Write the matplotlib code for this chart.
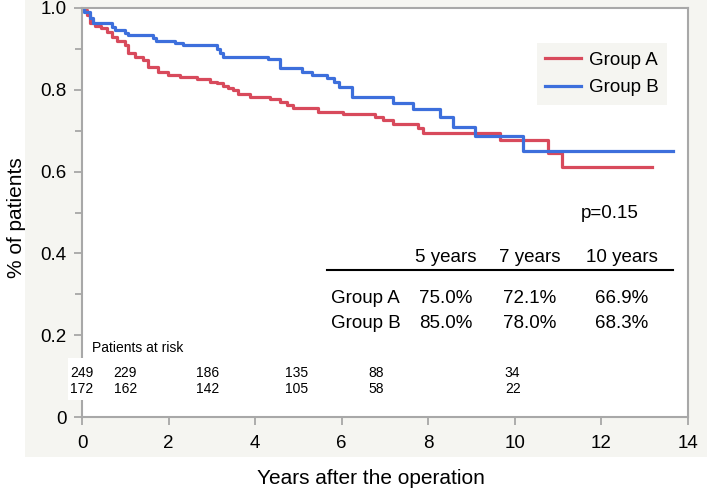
import matplotlib
matplotlib.use("Agg")
import matplotlib.pyplot as plt
from matplotlib.patches import Rectangle

plt.rcParams['font.family'] = ['Liberation Sans', 'DejaVu Sans']

# Kaplan-Meier steps (years, survival)
t_a = [0, 0.07, 0.11, 0.18, 0.30, 0.45, 0.57, 0.69, 0.80, 0.99, 1.07, 1.22, 1.42,
       1.53, 1.76, 1.99, 2.26, 2.65, 2.96, 3.11, 3.26, 3.38, 3.49, 3.61, 3.88,
       4.34, 4.57, 4.73, 4.88, 5.46, 6.03, 6.77, 6.96, 7.19, 7.77, 7.88, 9.65,
       10.77, 11.08, 13.16]
s_a = [1.0, 0.995, 0.983, 0.962, 0.956, 0.950, 0.942, 0.930, 0.920, 0.910, 0.889,
       0.881, 0.873, 0.856, 0.844, 0.836, 0.831, 0.826, 0.820, 0.816, 0.809, 0.805,
       0.800, 0.789, 0.783, 0.777, 0.771, 0.763, 0.755, 0.746, 0.741, 0.733, 0.725,
       0.716, 0.706, 0.694, 0.677, 0.645, 0.612, 0.612]

t_b = [0, 0.05, 0.18, 0.26, 0.69, 0.76, 0.99, 1.07, 1.64, 1.72, 2.15, 2.34, 3.11,
       3.18, 3.26, 4.30, 4.57, 5.08, 5.31, 5.66, 5.82, 5.93, 6.24, 7.18, 7.65,
       8.28, 8.57, 9.08, 10.19, 13.65]
s_b = [1.0, 0.99, 0.975, 0.962, 0.954, 0.946, 0.938, 0.934, 0.926, 0.920, 0.914,
       0.910, 0.900, 0.890, 0.880, 0.874, 0.853, 0.844, 0.836, 0.828, 0.820, 0.806,
       0.783, 0.768, 0.753, 0.733, 0.710, 0.687, 0.650, 0.650]

groups = ['Group A', 'Group B']
colors = ['#d84a5c', '#3d6fdc']

# patients at risk
risk_t = [0, 1, 2.9, 4.95, 6.8, 9.95]
risk_a = [249, 229, 186, 135, 88, 34]
risk_b = [172, 162, 142, 105, 58, 22]

# survival table
table_years = ['5 years', '7 years', '10 years']
table_a = ['75.0%', '72.1%', '66.9%']
table_b = ['85.0%', '78.0%', '68.3%']
table_x = [8.4, 10.35, 12.47]
p_text = 'p=0.15'

fs = 13.5
fs_lab = 15
fs_risk = 10

fig = plt.figure(figsize=(7.07, 4.92), dpi=100)
fig.patches.append(Rectangle((0.035, 0.071), 0.965, 0.929, transform=fig.transFigure,
                             facecolor='#f5f5f1', edgecolor='none', zorder=-10))
ax = fig.add_axes([0.116, 0.152, 0.857, 0.832])
ax.set_facecolor('white')

ax.plot(t_a, s_a, drawstyle='steps-post', color=colors[0], lw=2.3, label=groups[0])
ax.plot(t_b, s_b, drawstyle='steps-post', color=colors[1], lw=2.3, label=groups[1])

ax.set_xlim(0, 14)
ax.set_ylim(0, 1.0)
ax.set_xticks(range(0, 15, 2))
ax.set_yticks([0, 0.2, 0.4, 0.6, 0.8, 1.0])
ax.set_yticklabels(['0', '0.2', '0.4', '0.6', '0.8', '1.0'])
ax.set_yticks([0.1, 0.3, 0.5, 0.7, 0.9], minor=True)
ax.tick_params(axis='both', which='major', labelsize=fs, length=6, width=1.2,
               color='#a0a0a0', pad=5)
ax.tick_params(axis='x', which='major', pad=7)
ax.tick_params(axis='y', which='minor', length=5, width=1.2, color='#a0a0a0')
for sp in ax.spines.values():
    sp.set_color('#a8a8a8')
    sp.set_linewidth(1.5)

fig.text(0.023, 0.557, '% of patients', rotation=90, ha='center', va='center', fontsize=fs_lab)
fig.text(0.525, 0.028, 'Years after the operation', ha='center', va='center', fontsize=fs_lab)

leg = ax.legend(loc='upper left', bbox_to_anchor=(0.751, 0.914), fontsize=fs,
                frameon=True, fancybox=False, facecolor='#f5f5f1', edgecolor='none',
                framealpha=1, handlelength=1.9, handletextpad=0.4, borderaxespad=0,
                labelspacing=0.55, borderpad=0.45)

ax.text(12.2, 0.498, p_text, ha='center', va='center', fontsize=fs)
ax.plot([5.66, 13.65], [0.359, 0.359], color='black', lw=1.5)
for x, h, a, b in zip(table_x, table_years, table_a, table_b):
    ax.text(x, 0.389, h, ha='center', va='center', fontsize=fs)
    ax.text(x, 0.291, a, ha='center', va='center', fontsize=fs)
    ax.text(x, 0.230, b, ha='center', va='center', fontsize=fs)
ax.text(5.75, 0.291, groups[0], ha='left', va='center', fontsize=fs)
ax.text(5.75, 0.230, groups[1], ha='left', va='center', fontsize=fs)

# white strip behind the at-risk numbers (hides the left spine there)
ax.add_patch(Rectangle((-0.33, 0.042), 14.0, 0.102, facecolor='white',
                       edgecolor='none', clip_on=False, zorder=3))
ax.text(0.24, 0.169, 'Patients at risk', ha='left', va='center', fontsize=fs_risk, zorder=4)
for x, a, b in zip(risk_t, risk_a, risk_b):
    ax.text(x, 0.108, str(a), ha='center', va='center', fontsize=fs_risk, zorder=4)
    ax.text(x, 0.069, str(b), ha='center', va='center', fontsize=fs_risk, zorder=4)

fig.savefig('out.png', dpi=100)
